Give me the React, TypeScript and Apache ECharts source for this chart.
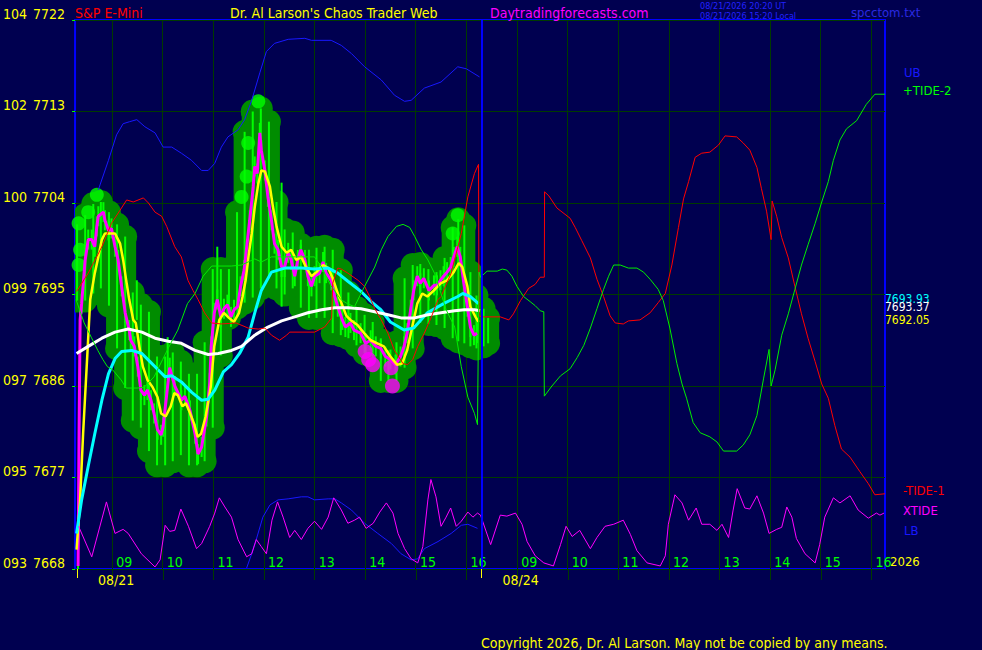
import React, { useEffect, useRef } from "react";
import * as echarts from "echarts";

const FONT = "'Liberation Sans Narrow', 'Arial Narrow', 'DejaVu Sans Condensed', sans-serif";

// ---- axes ----
const priceTicks = [7668, 7677, 7686, 7695, 7704, 7713, 7722];
const indexTicks = ["093", "095", "097", "099", "100", "102", "104"];
// x = trading hours since 08:16 of 08/21; the 08/24 session starts at 8
const hourTicks = [0.733, 1.733, 2.733, 3.733, 4.733, 5.733, 6.733, 7.733, 8.733, 9.733, 10.733, 11.733, 12.733, 13.733, 14.733, 15.733];
const hourLabels = ["09", "10", "11", "12", "13", "14", "15", "16", "09", "10", "11", "12", "13", "14", "15", "16"];
const dayStarts = [0.04, 8.03];
const dayLabels = ["08/21", "08/24"];
const sessionBreak = [8.03];

// ---- last values shown at the right edge ----
const lastCyan = "7693.93";
const lastWhite = "7693.37";
const lastYellow = "7692.05";

// ---- series ----
const ub = [[0.46,7705.3],[0.66,7708.2],[0.82,7710.7],[0.95,7711.8],[1.08,7712.0],[1.22,7712.2],[1.38,7711.5],[1.58,7710.9],[1.74,7709.5],[1.91,7709.5],[2.10,7708.9],[2.30,7708.2],[2.50,7707.2],[2.63,7707.2],[2.76,7707.9],[2.89,7709.5],[3.02,7710.5],[3.22,7711.2],[3.35,7712.2],[3.49,7714.1],[3.65,7716.8],[3.78,7718.9],[3.94,7719.7],[4.21,7720.1],[4.54,7720.2],[4.67,7720.0],[5.06,7720.0],[5.26,7719.5],[5.46,7718.7],[5.72,7717.4],[6.05,7716.1],[6.31,7714.6],[6.51,7714.0],[6.64,7714.1],[6.90,7715.3],[7.23,7715.9],[7.56,7717.4],[7.73,7717.2],[7.99,7716.4]];

const lb = [[3.39,7668.1],[3.49,7669.5],[3.58,7670.9],[3.71,7673.1],[3.85,7674.3],[4.01,7674.8],[4.21,7674.9],[4.47,7675.1],[4.60,7675.1],[4.73,7674.8],[5.00,7674.9],[5.13,7674.9],[5.26,7674.5],[5.46,7673.8],[5.72,7672.5],[5.98,7671.5],[6.25,7670.5],[6.44,7669.5],[6.64,7668.9],[6.77,7669.0],[6.90,7670.0],[7.17,7670.7],[7.43,7671.5],[7.63,7672.3],[7.76,7672.4],[7.95,7672.0]];

const xtide = [[0.07,7672.2],[0.33,7669.2],[0.62,7674.6],[0.79,7671.5],[0.95,7671.9],[1.05,7671.5],[1.31,7669.5],[1.58,7668.2],[1.68,7668.9],[1.78,7672.3],[1.87,7671.7],[1.97,7671.8],[2.09,7673.9],[2.24,7672.2],[2.40,7670.0],[2.50,7670.5],[2.66,7672.2],[2.76,7673.5],[2.85,7675.0],[2.96,7674.1],[3.09,7673.1],[3.22,7670.9],[3.39,7669.2],[3.49,7669.5],[3.58,7670.9],[3.68,7670.2],[3.78,7669.5],[3.89,7672.8],[4.00,7674.6],[4.11,7673.1],[4.24,7671.1],[4.34,7671.8],[4.47,7670.9],[4.60,7672.0],[4.73,7672.7],[4.87,7671.9],[5.00,7673.1],[5.11,7675.0],[5.26,7673.8],[5.39,7672.5],[5.52,7672.8],[5.62,7673.1],[5.75,7672.0],[5.89,7672.5],[6.02,7673.6],[6.15,7674.5],[6.28,7673.5],[6.38,7671.5],[6.51,7670.0],[6.64,7669.0],[6.77,7668.6],[6.87,7670.2],[6.97,7674.8],[7.03,7676.8],[7.13,7675.1],[7.23,7672.2],[7.33,7673.1],[7.42,7674.0],[7.53,7672.2],[7.63,7672.7],[7.76,7673.6],[7.86,7673.1],[7.95,7673.5],
  [8.01,7673.3],[8.21,7670.4],[8.40,7673.3],[8.53,7673.2],[8.70,7673.5],[8.83,7672.4],[8.93,7670.7],[9.09,7669.3],[9.26,7668.6],[9.45,7668.3],[9.59,7670.4],[9.70,7672.2],[9.82,7671.2],[9.97,7671.8],[10.18,7670.0],[10.31,7671.1],[10.47,7672.2],[10.64,7672.4],[10.83,7672.8],[10.97,7671.4],[11.10,7669.8],[11.30,7668.6],[11.56,7668.3],[11.66,7669.3],[11.72,7672.4],[11.85,7675.3],[11.99,7674.5],[12.12,7672.8],[12.27,7674.0],[12.38,7672.4],[12.54,7672.4],[12.68,7671.8],[12.78,7672.4],[12.91,7671.1],[13.00,7673.8],[13.08,7675.9],[13.23,7674.0],[13.33,7673.9],[13.47,7675.2],[13.60,7673.5],[13.71,7671.5],[13.86,7671.9],[13.96,7672.1],[14.06,7674.1],[14.16,7673.1],[14.25,7671.0],[14.42,7669.5],[14.62,7668.6],[14.71,7670.4],[14.81,7673.1],[14.98,7675.0],[15.11,7674.5],[15.31,7675.2],[15.47,7673.8],[15.67,7673.0],[15.83,7673.5],[15.90,7673.3],[15.98,7673.5]];

const tide1 = [[0.03,7695.3],[0.26,7697.1],[0.53,7699.7],[0.72,7702.0],[0.89,7703.3],[1.02,7704.3],[1.15,7704.1],[1.35,7704.5],[1.45,7704.0],[1.58,7703.1],[1.71,7702.7],[1.81,7701.7],[1.97,7699.7],[2.10,7698.7],[2.23,7696.4],[2.33,7695.4],[2.43,7694.5],[2.56,7693.2],[2.70,7692.2],[2.89,7692.1],[3.18,7692.2],[3.42,7691.7],[3.62,7691.6],[3.75,7691.7],[3.88,7691.0],[4.04,7690.5],[4.18,7691.0],[4.24,7691.3],[4.73,7691.3],[4.93,7691.8],[5.07,7692.7],[5.09,7696.1],[5.19,7697.6],[5.26,7697.5],[5.39,7697.1],[5.59,7696.4],[5.72,7695.8],[5.82,7694.8],[5.92,7693.6],[6.05,7692.5],[6.18,7691.2],[6.31,7689.5],[6.48,7688.2],[6.57,7688.1],[6.67,7688.6],[6.77,7689.9],[6.90,7691.2],[7.04,7692.8],[7.17,7694.5],[7.23,7694.8],[7.43,7697.1],[7.63,7701.0],[7.76,7704.6],[7.89,7706.9],[7.97,7707.8],[7.98,7692.9],
  [8.07,7692.8],[8.40,7692.8],[8.57,7692.5],[8.66,7693.1],[8.80,7694.4],[8.96,7695.6],[9.09,7696.0],[9.19,7696.7],[9.27,7696.7],[9.275,7705.1],[9.36,7704.7],[9.52,7703.5],[9.78,7702.5],[9.88,7701.6],[10.01,7700.3],[10.18,7698.6],[10.31,7696.5],[10.44,7694.8],[10.57,7692.9],[10.67,7692.2],[10.83,7692.1],[10.93,7692.4],[11.16,7692.5],[11.36,7693.2],[11.52,7694.2],[11.66,7695.1],[11.79,7697.9],[11.92,7701.6],[12.02,7704.4],[12.12,7706.1],[12.25,7708.5],[12.38,7708.9],[12.54,7709.0],[12.71,7709.7],[12.84,7710.6],[13.07,7710.5],[13.20,7709.9],[13.33,7709.2],[13.47,7707.5],[13.56,7705.4],[13.66,7703.2],[13.75,7700.4],[13.77,7704.2],[13.86,7702.7],[13.96,7700.6],[14.09,7698.6],[14.22,7695.8],[14.35,7693.1],[14.48,7690.7],[14.62,7688.4],[14.75,7686.2],[14.88,7684.8],[15.01,7682.1],[15.14,7679.8],[15.31,7679.0],[15.50,7677.6],[15.67,7676.4],[15.80,7675.3],[16.00,7675.4]];

const tide2 = [[0.02,7694.5],[0.18,7692.2],[0.32,7690.8],[0.45,7689.5],[0.55,7688.6],[0.64,7687.9],[0.74,7687.6],[0.91,7686.6],[1.01,7685.8],[1.24,7685.8],[1.37,7685.9],[1.56,7686.9],[1.73,7688.6],[1.89,7690.2],[2.03,7691.5],[2.22,7694.1],[2.37,7695.1],[2.53,7696.8],[2.70,7697.8],[3.09,7697.8],[3.29,7697.9],[3.55,7698.5],[3.68,7698.2],[3.88,7698.7],[4.73,7698.7],[4.87,7697.7],[5.05,7695.9],[5.25,7694.5],[5.38,7694.1],[5.52,7693.8],[5.72,7695.8],[5.92,7697.7],[6.05,7699.4],[6.18,7700.7],[6.35,7701.7],[6.48,7701.9],[6.61,7701.6],[6.71,7700.7],[6.84,7699.4],[6.97,7698.4],[7.10,7697.1],[7.23,7695.1],[7.33,7693.5],[7.50,7691.8],[7.63,7687.9],[7.76,7684.9],[7.89,7683.3],[7.95,7682.2],[7.98,7697.2],
  [8.01,7696.7],[8.14,7697.3],[8.34,7697.3],[8.44,7697.5],[8.53,7697.4],[8.63,7696.8],[8.73,7695.8],[8.86,7694.8],[8.99,7694.3],[9.09,7693.9],[9.19,7693.4],[9.26,7693.3],[9.27,7685.0],[9.42,7686.0],[9.59,7687.0],[9.78,7687.7],[9.92,7688.8],[10.05,7690.0],[10.18,7691.7],[10.31,7693.6],[10.44,7695.5],[10.54,7696.8],[10.64,7697.9],[10.77,7697.9],[10.93,7697.6],[11.10,7697.6],[11.23,7697.2],[11.36,7696.5],[11.52,7695.5],[11.62,7694.4],[11.75,7691.7],[11.89,7688.2],[11.99,7686.2],[12.08,7684.8],[12.21,7682.4],[12.35,7681.4],[12.54,7681.0],[12.68,7680.5],[12.81,7679.6],[13.07,7679.6],[13.20,7680.2],[13.33,7681.2],[13.47,7683.1],[13.60,7686.7],[13.71,7689.6],[13.75,7686.0],[13.83,7687.6],[13.96,7691.0],[14.09,7693.1],[14.22,7695.5],[14.35,7697.9],[14.48,7699.9],[14.62,7702.0],[14.75,7704.1],[14.88,7706.1],[14.98,7708.2],[15.11,7710.2],[15.24,7711.3],[15.44,7712.1],[15.63,7713.7],[15.80,7714.7],[16.00,7714.7]];

const slowAvg = [[0.03,7689.2],[0.26,7689.9],[0.53,7690.7],[0.79,7691.3],[1.05,7691.6],[1.32,7691.3],[1.58,7690.7],[1.84,7690.4],[2.10,7690.2],[2.37,7689.5],[2.63,7689.1],[2.83,7689.2],[3.09,7689.5],[3.29,7689.9],[3.55,7691.0],[3.81,7691.8],[4.08,7692.4],[4.34,7692.8],[4.60,7693.2],[4.87,7693.5],[5.13,7693.7],[5.39,7693.7],[5.65,7693.6],[5.92,7693.3],[6.18,7693.0],[6.44,7692.7],[6.71,7692.7],[6.97,7693.0],[7.23,7693.2],[7.50,7693.4],[7.69,7693.5],[7.89,7693.5],[8.00,7693.4]];

const midAvg = [[0.03,7671.5],[0.13,7674.8],[0.26,7678.1],[0.39,7681.3],[0.53,7684.6],[0.66,7687.2],[0.79,7688.7],[0.92,7689.4],[1.12,7689.5],[1.32,7689.2],[1.48,7688.4],[1.64,7687.6],[1.78,7686.9],[1.91,7687.0],[2.10,7686.4],[2.30,7685.4],[2.50,7684.6],[2.63,7684.7],[2.76,7685.6],[2.93,7687.4],[3.09,7688.1],[3.25,7689.2],[3.42,7690.8],[3.55,7693.2],[3.68,7695.4],[3.88,7697.2],[4.14,7697.6],[4.47,7697.6],[4.73,7697.5],[5.00,7697.6],[5.19,7697.1],[5.39,7696.3],[5.65,7695.3],[5.85,7694.3],[6.04,7693.5],[6.23,7692.3],[6.50,7691.5],[6.69,7691.7],[6.96,7693.2],[7.28,7694.1],[7.56,7694.8],[7.66,7695.1],[7.81,7694.8],[7.97,7694.1]];

const fastAvg = [[0.03,7669.9],[0.10,7674.8],[0.16,7681.4],[0.23,7687.9],[0.30,7694.5],[0.39,7697.1],[0.46,7698.7],[0.53,7700.4],[0.59,7701.0],[0.72,7701.0],[0.79,7701.0],[0.89,7700.0],[0.95,7698.4],[1.02,7696.1],[1.07,7694.5],[1.15,7692.5],[1.20,7692.2],[1.27,7689.9],[1.34,7687.9],[1.43,7686.6],[1.53,7685.9],[1.63,7684.9],[1.70,7683.3],[1.79,7683.0],[1.89,7684.0],[1.96,7685.3],[2.03,7685.1],[2.12,7684.0],[2.19,7684.3],[2.25,7683.6],[2.35,7682.3],[2.42,7681.0],[2.49,7681.3],[2.58,7683.0],[2.68,7685.9],[2.75,7689.9],[2.85,7692.5],[2.94,7693.2],[3.04,7692.7],[3.14,7692.3],[3.24,7693.2],[3.31,7694.8],[3.37,7696.4],[3.43,7698.9],[3.49,7701.0],[3.55,7703.6],[3.62,7705.9],[3.68,7707.2],[3.75,7707.1],[3.85,7705.6],[3.91,7703.6],[3.98,7701.7],[4.08,7699.7],[4.18,7699.1],[4.27,7699.4],[4.37,7698.4],[4.47,7698.7],[4.57,7697.6],[4.67,7696.8],[4.77,7697.2],[4.90,7697.9],[5.00,7697.6],[5.09,7696.6],[5.19,7695.1],[5.29,7693.8],[5.36,7692.9],[5.44,7692.5],[5.58,7692.0],[5.71,7691.2],[5.84,7690.5],[5.97,7690.2],[6.10,7689.9],[6.23,7688.9],[6.36,7688.1],[6.46,7688.2],[6.56,7689.5],[6.66,7691.8],[6.76,7694.1],[6.86,7695.1],[6.96,7694.8],[7.09,7695.4],[7.22,7696.1],[7.35,7696.4],[7.48,7697.2],[7.58,7698.1],[7.65,7697.7],[7.75,7695.8],[7.81,7693.8],[7.91,7692.8],[7.97,7692.3]];

const closeLine = [[0.06,7668.3],[0.08,7681.7],[0.10,7692.5],[0.13,7694.1],[0.20,7698.4],[0.26,7700.4],[0.33,7700.4],[0.39,7699.7],[0.43,7701.7],[0.46,7702.7],[0.56,7703.1],[0.59,7702.3],[0.66,7701.3],[0.72,7701.5],[0.79,7699.7],[0.85,7698.4],[0.92,7695.8],[0.99,7693.2],[1.07,7691.5],[1.10,7690.5],[1.17,7689.9],[1.24,7687.9],[1.30,7685.6],[1.37,7685.1],[1.43,7685.6],[1.50,7684.6],[1.56,7683.3],[1.63,7681.7],[1.70,7681.2],[1.74,7682.0],[1.87,7687.8],[1.97,7686.0],[2.10,7684.6],[2.17,7685.0],[2.27,7683.6],[2.37,7681.3],[2.43,7679.3],[2.50,7680.0],[2.60,7683.0],[2.66,7686.3],[2.69,7689.9],[2.75,7693.2],[2.81,7694.5],[2.88,7692.8],[2.94,7693.6],[3.01,7694.0],[3.08,7692.8],[3.14,7693.5],[3.21,7693.8],[3.27,7695.8],[3.34,7697.4],[3.45,7702.3],[3.52,7705.6],[3.55,7707.6],[3.60,7706.9],[3.65,7710.9],[3.68,7709.2],[3.75,7707.2],[3.81,7704.6],[3.88,7702.3],[3.94,7700.0],[4.01,7699.4],[4.08,7697.7],[4.14,7697.7],[4.21,7699.1],[4.27,7698.4],[4.34,7696.8],[4.40,7698.4],[4.46,7699.4],[4.54,7698.4],[4.60,7696.8],[4.67,7695.8],[4.73,7696.8],[4.83,7697.1],[4.90,7698.2],[4.96,7697.1],[5.06,7696.4],[5.13,7694.8],[5.19,7693.8],[5.28,7692.5],[5.34,7691.8],[5.44,7692.2],[5.51,7691.5],[5.64,7691.2],[5.74,7690.2],[5.84,7690.5],[5.94,7689.9],[6.04,7689.7],[6.13,7688.9],[6.23,7688.6],[6.33,7688.1],[6.43,7688.9],[6.50,7689.9],[6.56,7691.2],[6.63,7693.5],[6.69,7695.4],[6.76,7696.8],[6.82,7696.1],[6.89,7696.6],[6.99,7695.4],[7.09,7695.9],[7.15,7695.9],[7.22,7696.4],[7.28,7696.8],[7.35,7697.2],[7.42,7697.7],[7.48,7698.7],[7.55,7699.7],[7.61,7698.7],[7.68,7696.1],[7.75,7693.8],[7.81,7691.8],[7.88,7691.0],[7.94,7691.2]];

// [t, high, low]
const barRanges = [[0.04,7701.9,7694.4],[0.20,7702.8,7694.4],[0.36,7703.9,7695.1],[0.51,7704.1,7695.6],[0.67,7703.1,7693.9],[0.83,7701.9,7689.7],[0.99,7700.7,7685.8],[1.14,7695.2,7682.6],[1.30,7694.0,7681.9],[1.46,7693.3,7679.6],[1.62,7688.9,7678.2],[1.78,7688.9,7678.2],[1.93,7689.3,7678.6],[2.09,7688.4,7679.2],[2.25,7687.2,7678.2],[2.41,7687.2,7678.2],[2.56,7690.3,7678.6],[2.72,7697.5,7681.9],[2.88,7697.5,7689.0],[3.04,7697.5,7692.7],[3.20,7703.1,7693.7],[3.35,7711.0,7694.2],[3.51,7713.0,7694.7],[3.67,7713.3,7695.6],[3.83,7712.0,7696.6],[3.98,7704.1,7695.6],[4.14,7701.4,7695.0],[4.30,7701.1,7695.6],[4.46,7699.9,7693.7],[4.62,7699.4,7692.7],[4.77,7699.6,7692.7],[4.93,7699.7,7692.7],[5.09,7699.4,7691.2],[5.25,7697.4,7691.0],[5.40,7695.2,7690.7],[5.56,7693.7,7690.0],[5.72,7693.0,7689.2],[5.88,7692.3,7688.8],[6.04,7690.5,7686.5],[6.19,7689.5,7686.5],[6.35,7690.3,7686.5],[6.51,7696.6,7687.8],[6.67,7697.9,7689.7],[6.82,7698.0,7692.2],[6.98,7697.5,7692.1],[7.14,7697.2,7692.0],[7.30,7698.6,7691.7],[7.46,7701.6,7690.7],[7.57,7702.4,7690.4],[7.69,7701.8,7690.2],[7.81,7697.2,7689.9],[7.93,7694.9,7689.7],[8.07,7693.6,7689.9],[8.16,7692.7,7690.2]];
const spikes = [[1.22,7696.4,7692.5],[1.83,7690.8,7686.6],[2.81,7699.7,7694.5],[4.08,7706.0,7693.8]];
const newHighs = [[0.07,7697.9],[0.10,7699.4],[0.07,7702.0],[0.26,7703.1],[0.43,7704.8],[3.29,7704.6],[3.39,7706.6],[3.42,7709.9],[3.62,7714.0],[7.46,7701.0],[7.56,7702.8]];
const newLows = [[5.73,7689.4],[5.80,7688.6],[5.88,7688.1],[6.24,7687.8],[6.27,7686.0]];

const BG = "#000050";
const GRIDC = "#003a00";
const BLOB = "#008c00";
const BRIGHT = "#00ff00";

function rangeRenderer(halfWidth: number, radius: number, fill: string) {
  return (_params: any, api: any) => {
    const hi = api.coord([api.value(0), api.value(1)]);
    const lo = api.coord([api.value(0), api.value(2)]);
    const children: any[] = [
      { type: "rect", shape: { x: hi[0] - halfWidth, y: hi[1], width: halfWidth * 2, height: Math.max(0, lo[1] - hi[1]) }, style: { fill } },
    ];
    if (radius > 0) {
      children.push({ type: "circle", shape: { cx: hi[0], cy: hi[1], r: radius }, style: { fill } });
      children.push({ type: "circle", shape: { cx: lo[0], cy: lo[1], r: radius }, style: { fill } });
    }
    return { type: "group", children };
  };
}

// short bright streak around each close, drawn through the axes
function streakRenderer(halfHeight: number, halfWidth: number, fill: string) {
  return (_params: any, api: any) => {
    const p = api.coord([api.value(0), api.value(1)]);
    return { type: "rect", shape: { x: p[0] - halfWidth, y: p[1] - halfHeight, width: halfWidth * 2, height: halfHeight * 2 }, style: { fill } };
  };
}

function lineSeries(name: string, data: number[][], color: string, width: number, z: number) {
  return {
    name, type: "line", data, z, silent: true, symbol: "none", showSymbol: false,
    lineStyle: { color, width }, emphasis: { disabled: true },
  };
}

function txt(text: string, x: number, y: number, fill: string, size: number, align = "left") {
  return {
    type: "text", x, y, z: 100, silent: true,
    style: { text, fill, font: `${size}px ${FONT}`, textAlign: align, textVerticalAlign: "middle" },
  };
}

function buildOption() {
  return {
    animation: false,
    backgroundColor: BG,
    grid: { left: 74, right: 97, top: 20, bottom: 81, show: true, borderColor: "#0000ff", borderWidth: 2, backgroundColor: "transparent" },
    xAxis: [
      {
        type: "value", min: 0, max: 16,
        axisLine: { show: false },
        splitLine: { show: false },
        axisTick: { show: true, customValues: hourTicks, length: 11, lineStyle: { color: GRIDC, width: 1 } },
        axisLabel: {
          show: true, inside: true, customValues: hourTicks, margin: 0,
          color: BRIGHT, fontFamily: FONT, fontSize: 14, align: "left", padding: [0, 0, 0, 4],
          formatter: (v: number) => { const i = hourTicks.findIndex((h) => Math.abs(h - v) < 1e-6); return i >= 0 ? hourLabels[i] : ""; },
        },
      },
      {
        type: "value", min: 0, max: 16, position: "bottom",
        axisLine: { show: false },
        splitLine: { show: false },
        axisTick: { show: true, customValues: dayStarts, length: 9, lineStyle: { color: "#ffff00", width: 1 } },
        axisLabel: {
          show: true, customValues: dayStarts, margin: 4,
          color: "#ffff00", fontFamily: FONT, fontSize: 14, align: "left", padding: [0, 0, 0, 21],
          formatter: (v: number) => { const i = dayStarts.findIndex((h) => Math.abs(h - v) < 1e-6); return i >= 0 ? dayLabels[i] : ""; },
        },
      },
    ],
    yAxis: {
      type: "value", min: 7668, max: 7722, interval: 9,
      axisLine: { show: false },
      axisTick: { show: true, length: 3, lineStyle: { color: BRIGHT } },
      splitLine: { show: true, lineStyle: { color: GRIDC, width: 1 } },
      axisLabel: {
        margin: 10, verticalAlign: "bottom", lineHeight: 13,
        formatter: (v: number) => { const i = priceTicks.indexOf(v); return `{a|${i >= 0 ? indexTicks[i] : ""}}{b|${v}}`; },
        rich: {
          a: { width: 30, align: "left", color: "#ffff00", fontFamily: FONT, fontSize: 14, lineHeight: 13 },
          b: { color: "#ffff00", fontFamily: FONT, fontSize: 14, lineHeight: 13 },
        },
      },
    },
    series: [
      {
        name: "grid", type: "line", data: [[0, 7668], [16, 7668]], z: 1, silent: true, symbol: "none",
        lineStyle: { opacity: 0, width: 0 },
        markLine: {
          z: 1, silent: true, symbol: ["none", "none"], label: { show: false }, animation: false,
          lineStyle: { color: GRIDC, width: 1, type: "solid" }, emphasis: { disabled: true },
          data: hourTicks.map((v) => ({ xAxis: v })),
        },
      },
      { name: "range", type: "custom", data: barRanges, encode: { x: 0, y: [1, 2] }, renderItem: rangeRenderer(11, 12, BLOB), clip: true, z: 2, silent: true },
      { name: "bars", type: "custom", data: barRanges, encode: { x: 0, y: [1, 2] }, renderItem: rangeRenderer(1, 0, BRIGHT), clip: true, z: 3, silent: true },
      { name: "streaks", type: "custom", data: closeLine, encode: { x: 0, y: 1 }, renderItem: streakRenderer(10, 1, BRIGHT), clip: true, z: 3, silent: true },
      { name: "spikes", type: "custom", data: spikes, encode: { x: 0, y: [1, 2] }, renderItem: rangeRenderer(1, 0, BRIGHT), clip: true, z: 3, silent: true },
      { name: "highs", type: "scatter", data: newHighs, symbolSize: 14, itemStyle: { color: BRIGHT }, z: 4, silent: true },
      { name: "lows", type: "scatter", data: newLows, symbolSize: 15, itemStyle: { color: "#ff00ff" }, z: 4, silent: true },
      lineSeries("close", closeLine, "#ff00ff", 3, 5),
      lineSeries("fast", fastAvg, "#ffff00", 2.5, 6),
      lineSeries("mid", midAvg, "#00ffff", 3, 7),
      lineSeries("slow", slowAvg, "#ffffff", 3, 8),
      lineSeries("UB", ub, "#1818ff", 1, 9),
      lineSeries("LB", lb, "#1818ff", 1, 9),
      lineSeries("-TIDE-1", tide1, "#ff0000", 1, 9),
      lineSeries("+TIDE-2", tide2, "#00ee00", 1, 9),
      lineSeries("XTIDE", xtide, "#ff00ff", 1, 9),
      {
        name: "break", type: "line", data: [[0, 7668], [16, 7668]], z: 10, silent: true, symbol: "none",
        lineStyle: { opacity: 0, width: 0 },
        markLine: {
          z: 10, silent: true, symbol: ["none", "none"], label: { show: false }, animation: false,
          lineStyle: { color: "#0000ff", width: 2, type: "solid" }, emphasis: { disabled: true },
          data: sessionBreak.map((v) => ({ xAxis: v })),
        },
      },
    ],
    graphic: [
      txt("S&P E-Mini", 75, 13, "#ff0000", 14),
      txt("Dr. Al Larson's Chaos Trader Web", 230, 13, "#ffff00", 14),
      txt("Daytradingforecasts.com", 490, 13, "#ff00ff", 14),
      txt("08/21/2026 20:20 UT", 700, 5.5, "#2222ff", 9),
      txt("08/21/2026 15:20 Local", 700, 15.5, "#2222ff", 9),
      txt("spcctom.txt", 851, 12, "#2a2ae0", 13),
      txt("UB", 904, 72, "#1818ff", 13),
      txt("+TIDE-2", 903, 90, "#00ff00", 13),
      txt(lastCyan, 885, 299, "#00ffff", 12),
      txt(lastWhite, 885, 307, "#ffffff", 12),
      txt(lastYellow, 885, 320, "#ffff00", 12),
      txt("-TIDE-1", 903, 490, "#ff0000", 13),
      txt("XTIDE", 903, 510, "#ff00ff", 13),
      txt("LB", 904, 530, "#1818ff", 13),
      txt("2026", 890, 561, "#ffff00", 13),
      txt("Copyright 2026, Dr. Al Larson. May not be copied by any means.", 481, 643, "#ffff00", 14),
    ],
  };
}

export default function App() {
  const ref = useRef<HTMLDivElement>(null);
  useEffect(() => {
    if (!ref.current) return;
    const chart = echarts.init(ref.current, null, { renderer: "svg" });
    chart.setOption(buildOption() as any);
    return () => chart.dispose();
  }, []);
  return <div ref={ref} style={{ position: "fixed", left: 0, top: 0, width: 982, height: 650, background: BG }} />;
}
